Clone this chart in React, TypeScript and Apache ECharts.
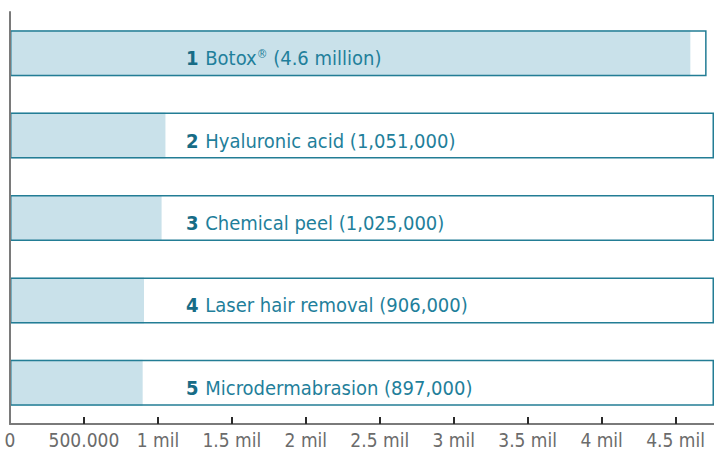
import React, { useEffect, useRef } from "react";
import * as echarts from "echarts";

const ranks = ["1", "2", "3", "4", "5"];
const names = ["Botox", "Hyaluronic acid", "Chemical peel", "Laser hair removal", "Microdermabrasion"];
const valueLabels = ["4.6 million", "1,051,000", "1,025,000", "906,000", "897,000"];
const values = [4600000, 1051000, 1025000, 906000, 897000];
const boxValues = [4710000, 4760000, 4760000, 4760000, 4760000];
const tickValues = [500000, 1000000, 1500000, 2000000, 2500000, 3000000, 3500000, 4000000, 4500000];
const tickLabelValues = [0, 500000, 1000000, 1500000, 2000000, 2500000, 3000000, 3500000, 4000000, 4500000];
const tickLabels = ["0", "500.000", "1 mil", "1.5 mil", "2 mil", "2.5 mil", "3 mil", "3.5 mil", "4 mil", "4.5 mil"];

const FONT = "'Liberation Sans Narrow', 'DejaVu Sans Condensed', 'Roboto', sans-serif";

export default function App() {
  const ref = useRef<HTMLDivElement>(null);
  useEffect(() => {
    if (!ref.current) return;
    const chart = echarts.init(ref.current, null, { renderer: "svg" });
    const cats = names.map((n, i) => ranks[i]);
    chart.setOption({
      animation: false,
      grid: { left: 10, right: 0, top: 12, bottom: 32, containLabel: false },
      xAxis: {
        type: "value",
        min: 0,
        max: 4760000,
        interval: 500000,
        splitLine: { show: false },
        axisLine: { show: true, lineStyle: { color: "#7a7a7a", width: 2 } },
        axisTick: {
          show: true,
          inside: true,
          length: 7,
          lineStyle: { color: "#2a2a2a", width: 2 },
          customValues: tickValues,
        },
        axisLabel: {
          customValues: tickLabelValues,
          formatter: (v: number) => {
            const i = tickLabelValues.indexOf(v);
            return i >= 0 ? tickLabels[i] : "";
          },
          color: "#6b6b6b",
          fontSize: 19,
          fontFamily: FONT,
          margin: 6,
        },
      },
      yAxis: {
        type: "category",
        data: cats,
        inverse: true,
        axisLine: { show: true, onZero: false, lineStyle: { color: "#7a7a7a", width: 2 } },
        axisTick: { show: false },
        axisLabel: { show: false },
        z: 10,
      },
      series: [
        {
          type: "bar",
          data: boxValues,
          barWidth: 46,
          barGap: "-100%",
          itemStyle: { color: "#ffffff" },
          silent: true,
          z: 1,
        },
        {
          type: "bar",
          data: values,
          barWidth: 46,
          barGap: "-100%",
          itemStyle: { color: "#c9e1ea" },
          silent: true,
          z: 2,
        },
        {
          type: "bar",
          data: boxValues,
          barWidth: 46,
          barGap: "-100%",
          itemStyle: { color: "rgba(0,0,0,0)", borderColor: "#237d95", borderWidth: 1.5 },
          z: 3,
          label: {
            show: true,
            position: [176, 28],
            verticalAlign: "middle",
            align: "left",
            formatter: (p: any) => {
              const i = p.dataIndex;
              if (i === 0) return `{b|${ranks[i]}}{t| ${names[i]}}{s|®}{t| (${valueLabels[i]})}`;
              return `{b|${ranks[i]}}{t| ${names[i]} (${valueLabels[i]})}`;
            },
            rich: {
              b: { fontFamily: FONT, fontSize: 20, fontWeight: "bold", color: "#176c86", padding: [0, 1, 0, 0] },
              t: { fontFamily: FONT, fontSize: 20, color: "#1f7f9b" },
              s: { fontFamily: FONT, fontSize: 12, color: "#1f7f9b", verticalAlign: "top", padding: [0, 0, 9, 0] },
            },
          },
        },
      ],
    });
    return () => chart.dispose();
  }, []);
  return <div ref={ref} style={{ position: "absolute", left: 0, top: 0, width: 714, height: 456 }} />;
}
